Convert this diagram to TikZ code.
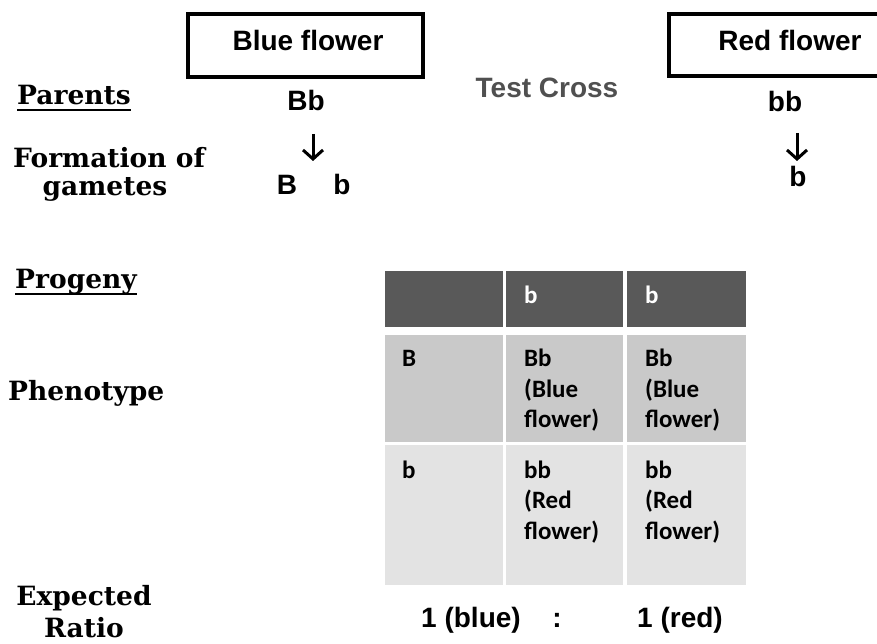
\documentclass[tikz,border=0pt]{standalone}
\usepackage{fontspec}
\setmainfont{Liberation Sans}
\newfontfamily\serifbf{DejaVu Serif}
\newfontfamily\tabfont{Carlito}
\usetikzlibrary{arrows.meta}
\definecolor{hdr}{HTML}{595959}
\definecolor{rowa}{HTML}{C9C9C9}
\definecolor{rowb}{HTML}{E3E3E3}
\definecolor{tcgray}{HTML}{505050}
\tikzset{
  lbl/.style={inner sep=0pt, anchor=base, font=\serifbf\bfseries\fontsize{26.5}{30}\selectfont},
  sans/.style={inner sep=0pt, anchor=base, font=\bfseries\fontsize{28}{32}\selectfont},
  cell/.style={inner sep=0pt, anchor=base west, font=\tabfont\bfseries\fontsize{25}{28}\selectfont},
  parentbox/.style={draw, line width=4pt},
  gamarrow/.style={line width=3pt, -{Straight Barb[length=9pt,width=20pt,line width=3pt]}},
  ul/.style={line width=1.6pt}
}
\begin{document}
\begin{tikzpicture}[x=1pt,y=-1pt]
\clip (0,0) rectangle (877,644);
\fill[white] (0,0) rectangle (877,644);
% parent boxes
\draw[parentbox] (188,14) rectangle (423,77);
\node[sans] (blue) at (308,51) {Blue flower};
\draw[parentbox] (669,14) rectangle (890,76);
\node[sans] (red) at (790,51) {Red flower};
% left labels
\node[lbl, anchor=base west] (parents) at (17,105) {Parents};
\draw[ul] ([yshift=-5pt]parents.base west) -- ([yshift=-5pt]parents.base east);
\node[lbl, anchor=base west] (form) at (13,168) {Formation of};
\node[lbl] (gam) at (105,196) {gametes};
\node[lbl, anchor=base west] (progeny) at (15,288) {Progeny};
\draw[ul] ([yshift=-6pt]progeny.base west) -- ([yshift=-6pt]progeny.base east);
\node[lbl, anchor=base west] (pheno) at (8,400) {Phenotype};
\node[lbl] (expected) at (84,605) {Expected};
\node[lbl] (ratio) at (84,637) {Ratio};
% test cross
\node[sans, text=tcgray, font=\bfseries\fontsize{28}{32}\selectfont] (tc) at (547,98) {Test Cross};
% blue parent genotype and gametes
\node[sans] (Bb) at (306,111) {Bb};
\coordinate (a1s) at (313,134);
\coordinate (a1e) at (313,161);
\draw[gamarrow] (a1s) -- (a1e);
\node[sans] (gB) at (287,195) {B};
\node[sans] (gb) at (342,195) {b};
% red parent genotype and gamete
\node[sans] (bb) at (785,112) {bb};
\coordinate (a2s) at (797,133);
\coordinate (a2e) at (797,161);
\draw[gamarrow] (a2s) -- (a2e);
\node[sans] (rb) at (798,187) {b};
% table
\fill[hdr] (385,271) rectangle (503,327);
\fill[hdr] (506,271) rectangle (623,327);
\fill[hdr] (627,271) rectangle (746,327);
\fill[rowa] (385,335) rectangle (503,442);
\fill[rowa] (506,335) rectangle (623,442);
\fill[rowa] (627,335) rectangle (746,442);
\fill[rowb] (385,445) rectangle (503,585);
\fill[rowb] (506,445) rectangle (623,585);
\fill[rowb] (627,445) rectangle (746,585);
\node[cell, text=white] (h2) at (524,303) {b};
\node[cell, text=white] (h3) at (645,303) {b};
\node[cell] (r1c1) at (402,366) {B};
\node[cell] (r1c2a) at (524,366) {Bb};
\node[cell] (r1c2b) at (524,397) {(Blue};
\node[cell] (r1c2c) at (524,427) {flower)};
\node[cell] (r1c3a) at (645,366) {Bb};
\node[cell] (r1c3b) at (645,397) {(Blue};
\node[cell] (r1c3c) at (645,427) {flower)};
\node[cell] (r2c1) at (402,478) {b};
\node[cell] (r2c2a) at (524,478) {bb};
\node[cell] (r2c2b) at (524,508) {(Red};
\node[cell] (r2c2c) at (524,539) {flower)};
\node[cell] (r2c3a) at (645,478) {bb};
\node[cell] (r2c3b) at (645,508) {(Red};
\node[cell] (r2c3c) at (645,539) {flower)};
% ratio
\node[sans] (r1) at (471,627) {1 (blue)};
\node[sans] (colon) at (557,627) {:};
\node[sans] (r2) at (680,627) {1 (red)};
\end{tikzpicture}
\end{document}
